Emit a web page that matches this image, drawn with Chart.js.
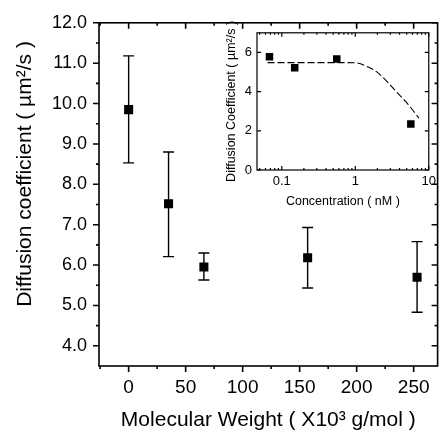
<!DOCTYPE html>
<html>
<head>
<meta charset="utf-8">
<script src="https://cdn.jsdelivr.net/npm/chart.js@4"></script>
<style>
  html, body { margin: 0; padding: 0; background: #fff; }
  #wrap { position: relative; width: 440px; height: 435px; overflow: hidden; }
  #main { position: absolute; left: 0; top: 0; }
  #inset { position: absolute; left: 215px; top: 20px; }
</style>
</head>
<body>
<div id="wrap">
  <canvas id="main" width="444" height="435"></canvas>
  <canvas id="inset" width="225" height="195"></canvas>
</div>
<script>
// main panel: diffusion coefficient vs molecular weight
const mwValues = [0, 35, 66, 157, 253];
const diffMean = [9.85, 7.52, 5.95, 6.18, 5.70];
const diffLow = [8.53, 6.21, 5.63, 5.43, 4.83];
const diffHigh = [11.18, 8.80, 6.30, 6.93, 6.58];
const mwTicks = [0, 50, 100, 150, 200, 250];
const mwMinor = [-25, 25, 75, 125, 175, 225];
const diffTicks = [4, 5, 6, 7, 8, 9, 10, 11, 12];
const diffMinor = [4.5, 5.5, 6.5, 7.5, 8.5, 9.5, 10.5, 11.5];

// inset: diffusion coefficient vs concentration
const concValues = [0.068, 0.15, 0.56, 5.7];
const concDiff = [5.78, 5.22, 5.66, 2.35];
const fitConc = [0.064, 0.2, 0.5, 1.0, 1.5, 2.0, 2.8, 3.6, 5.1, 7.35];
const fitDiff = [5.48, 5.48, 5.48, 5.47, 5.25, 4.98, 4.45, 4.0, 3.4, 2.65];
const concTicks = [0.1, 1, 10];
const concMinor = [0.05, 0.06, 0.07, 0.08, 0.09, 0.2, 0.3, 0.4, 0.5, 0.6, 0.7, 0.8, 0.9, 2, 3, 4, 5, 6, 7, 8, 9];
const insetTicks = [0, 2, 4, 6];

const FONT = '"Liberation Sans", Arial, sans-serif';
Chart.defaults.font.family = FONT;
Chart.defaults.color = '#000';

// box round the plot area with major/minor tick marks
const framePlugin = {
  id: 'frame',
  afterDraw(chart, args, o) {
    const { ctx, chartArea: a, scales: { x, y } } = chart;
    ctx.save();
    ctx.strokeStyle = '#000';
    ctx.lineWidth = o.lineWidth;
    ctx.strokeRect(a.left, a.top, a.right - a.left, a.bottom - a.top);
    ctx.beginPath();
    const mark = (px, py, dx, dy) => { ctx.moveTo(px, py); ctx.lineTo(px + dx, py + dy); };
    const xs = [[o.xMajor, o.major], [o.xMinor, o.minor]];
    const ys = [[o.yMajor, o.major], [o.yMinor, o.minor]];
    xs.forEach(([vals, len]) => vals.forEach(v => {
      const p = x.getPixelForValue(v);
      mark(p, a.bottom, 0, o.bottomOut ? len : -len);
      mark(p, a.top, 0, len);
    }));
    ys.forEach(([vals, len]) => vals.forEach(v => {
      const p = y.getPixelForValue(v);
      mark(a.left, p, o.leftOut ? -len : len, 0);
      mark(a.right, p, -len, 0);
    }));
    ctx.stroke();
    ctx.restore();
  }
};

const errorBarPlugin = {
  id: 'errorBars',
  beforeDatasetsDraw(chart, args, o) {
    if (!o.low) return;
    const { ctx, scales: { x, y } } = chart;
    ctx.save();
    ctx.strokeStyle = '#000';
    ctx.lineWidth = 1.4;
    ctx.beginPath();
    o.xs.forEach((v, i) => {
      const px = x.getPixelForValue(v);
      const lo = y.getPixelForValue(o.low[i]);
      const hi = y.getPixelForValue(o.high[i]);
      ctx.moveTo(px, lo); ctx.lineTo(px, hi);
      ctx.moveTo(px - o.cap, lo); ctx.lineTo(px + o.cap, lo);
      ctx.moveTo(px - o.cap, hi); ctx.lineTo(px + o.cap, hi);
    });
    ctx.stroke();
    ctx.restore();
  }
};

const sideTitlePlugin = {
  id: 'sideTitle',
  afterDraw(chart, args, o) {
    if (!o.text) return;
    const ctx = chart.ctx;
    ctx.save();
    ctx.font = o.font;
    ctx.fillStyle = '#000';
    ctx.textAlign = 'center';
    ctx.textBaseline = 'middle';
    ctx.translate(o.x, o.y);
    ctx.rotate(-Math.PI / 2);
    ctx.fillText(o.text, 0, 0);
    ctx.restore();
  }
};

new Chart(document.getElementById('main'), {
  type: 'scatter',
  data: {
    datasets: [{
      data: mwValues.map((v, i) => ({ x: v, y: diffMean[i] })),
      backgroundColor: '#000',
      borderColor: '#000',
      pointStyle: 'rect',
      pointRadius: 6.4,
      pointBorderWidth: 0
    }]
  },
  options: {
    responsive: false,
    animation: false,
    devicePixelRatio: 1,
    layout: { padding: { left: 0, top: 20, right: 3, bottom: 0 } },
    plugins: {
      legend: { display: false },
      tooltip: { enabled: false },
      frame: { lineWidth: 1.6, major: 6, minor: 3, bottomOut: true, leftOut: true,
               xMajor: mwTicks, xMinor: mwMinor, yMajor: diffTicks, yMinor: diffMinor },
      errorBars: { xs: mwValues, low: diffLow, high: diffHigh, cap: 5.5 },
      sideTitle: { text: 'Diffusion coefficient ( \u00b5m\u00b2/s )', font: '21px ' + FONT, x: 25, y: 174 }
    },
    scales: {
      x: {
        type: 'linear', min: -26, max: 271,
        afterBuildTicks: s => { s.ticks = mwTicks.map(v => ({ value: v })); },
        afterFit: s => { s.height = 69; },
        grid: { display: false, drawTicks: false },
        border: { display: false },
        ticks: { font: { size: 19 }, padding: 10, maxRotation: 0 },
        title: { display: true, text: 'Molecular Weight ( X10\u00b3 g/mol )', font: { size: 21 }, padding: { top: 0, bottom: 2 } }
      },
      y: {
        type: 'linear', min: 3.5, max: 12,
        afterBuildTicks: s => { s.ticks = diffTicks.map(v => ({ value: v })); },
        afterFit: s => { s.width = 99; },
        grid: { display: false, drawTicks: false },
        border: { display: false },
        ticks: { font: { size: 18 }, padding: 12, callback: v => v.toFixed(1) }
      }
    }
  },
  plugins: [framePlugin, errorBarPlugin, sideTitlePlugin]
});

new Chart(document.getElementById('inset'), {
  data: {
    datasets: [{
      type: 'line',
      data: fitConc.map((v, i) => ({ x: v, y: fitDiff[i] })),
      borderColor: '#000',
      borderWidth: 1.1,
      borderDash: [7, 3],
      pointRadius: 0,
      cubicInterpolationMode: 'monotone',
      fill: false
    }, {
      type: 'scatter',
      data: concValues.map((v, i) => ({ x: v, y: concDiff[i] })),
      backgroundColor: '#000',
      borderColor: '#000',
      pointStyle: 'rect',
      pointRadius: 5.3,
      pointBorderWidth: 0
    }]
  },
  options: {
    responsive: false,
    animation: false,
    devicePixelRatio: 1,
    layout: { padding: { left: 0, top: 12, right: 11, bottom: 0 } },
    plugins: {
      legend: { display: false },
      tooltip: { enabled: false },
      frame: { lineWidth: 1.2, major: 4, minor: 2, bottomOut: false, leftOut: false,
               xMajor: concTicks, xMinor: concMinor, yMajor: insetTicks, yMinor: [] }
    },
    scales: {
      x: {
        type: 'logarithmic', min: 0.046, max: 10,
        afterBuildTicks: s => { s.ticks = concTicks.map(v => ({ value: v })); },
        afterFit: s => { s.height = 45; },
        grid: { display: false, drawTicks: false },
        border: { display: false },
        ticks: { font: { size: 13 }, padding: 4, maxRotation: 0, callback: v => String(v) },
        title: { display: true, text: 'Concentration ( nM )', font: { size: 12.5 }, padding: { top: 0, bottom: 6 } }
      },
      y: {
        type: 'linear', min: 0, max: 7,
        afterBuildTicks: s => { s.ticks = insetTicks.map(v => ({ value: v })); },
        afterFit: s => { s.width = 42; },
        grid: { display: false, drawTicks: false },
        border: { display: false },
        ticks: { font: { size: 13 }, padding: 5 },
        title: { display: true, text: 'Diffusion Coefficient ( \u00b5m\u00b2/s )', font: { size: 12.5 }, padding: { top: 9, bottom: 0 } }
      }
    }
  },
  plugins: [framePlugin]
});
</script>
</body>
</html>
